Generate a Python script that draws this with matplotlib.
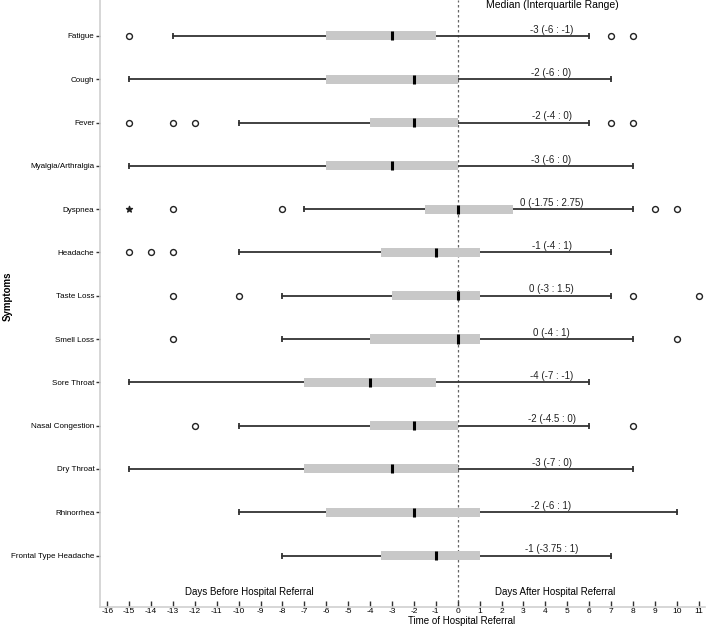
import numpy as np
import matplotlib.pyplot as plt

plt.rcParams['font.family'] = ['Liberation Sans', 'DejaVu Sans']

# === Data ===
symptoms = ["Fatigue", "Cough", "Fever", "Myalgia/Arthralgia", "Dyspnea", "Headache",
            "Taste Loss", "Smell Loss", "Sore Throat", "Nasal Congestion", "Dry Throat",
            "Rhinorrhea", "Frontal Type Headache"]
whisk_lo = [-13, -15, -10, -15, -7, -10, -8, -8, -15, -10, -15, -10, -8]
q1 = [-6, -6, -4, -6, -1.5, -3.5, -3, -4, -7, -4, -7, -6, -3.5]
medians = [-3, -2, -2, -3, 0, -1, 0, 0, -4, -2, -3, -2, -1]
q3 = [-1, 0, 0, 0, 2.5, 1, 1, 1, -1, 0, 0, 1, 1]
whisk_hi = [6, 7, 6, 8, 8, 7, 7, 8, 6, 6, 8, 10, 7]
outliers = [[-15, 7, 8], [], [-15, -13, -12, 7, 8], [], [-13, -8, 9, 10],
            [-15, -14, -13], [-13, -10, 8, 11], [-13, 10], [], [-12, 8], [], [], []]
extremes = [[], [], [], [], [-15], [], [], [], [], [], [], [], []]
iqr_labels = ["-3 (-6 : -1)", "-2 (-6 : 0)", "-2 (-4 : 0)", "-3 (-6 : 0)", "0 (-1.75 : 2.75)",
              "-1 (-4 : 1)", "0 (-3 : 1.5)", "0 (-4 : 1)", "-4 (-7 : -1)", "-2 (-4.5 : 0)",
              "-3 (-7 : 0)", "-2 (-6 : 1)", "-1 (-3.75 : 1)"]
xticks = list(range(-16, 12))

# === Plot ===
fig = plt.figure(figsize=(7.08, 6.28), dpi=100)
ax = fig.add_axes([0.1412, 0.0334, 0.855, 0.9666])

box_h = 0.21
for i in range(len(symptoms)):
    ax.plot([whisk_lo[i], whisk_hi[i]], [i, i], color='#333333', lw=1.3, zorder=2)
    ax.plot([whisk_lo[i], whisk_hi[i]], [i, i], ls='none', marker='|', ms=4,
            mew=1.3, color='#333333', zorder=2)
    ax.barh(i, q3[i] - q1[i], left=q1[i], height=box_h, color='#c8c8c8', zorder=3)
    ax.plot([medians[i], medians[i]], [i - box_h / 2, i + box_h / 2], color='black',
            lw=2.2, zorder=4, solid_capstyle='butt')
    if outliers[i]:
        ax.scatter(outliers[i], [i] * len(outliers[i]), s=18, facecolors='white',
                   edgecolors='#222222', linewidths=1.0, zorder=5)
    if extremes[i]:
        ax.scatter(extremes[i], [i] * len(extremes[i]), s=20, marker='*',
                   color='#222222', zorder=5)
    ax.text(4.28, i - 0.03, iqr_labels[i], ha='center', va='bottom', fontsize=7,
            color='#222222')

ax.axvline(0, color='#666666', lw=0.9, ls=(0, (2, 2)), zorder=1)

ax.set_xlim(-16.33, 11.3)
ax.set_ylim(13.19, -0.83)
ax.set_yticks(range(len(symptoms)))
ax.set_yticklabels(symptoms, fontsize=5.8)
ax.set_xticks(xticks)
ax.set_xticklabels([str(t) for t in xticks], fontsize=6)
ax.tick_params(axis='x', direction='in', length=4, width=1, color='#333333', pad=1)
ax.tick_params(axis='y', direction='out', length=3, width=1, color='#333333', pad=1)

for side in ['top', 'right']:
    ax.spines[side].set_visible(False)
for side in ['left', 'bottom']:
    ax.spines[side].set_color('#d0d0d0')
    ax.spines[side].set_linewidth(1.2)

ax.text(-9.5, 12.95, "Days Before Hospital Referral", ha='center', va='bottom', fontsize=7)
ax.text(4.45, 12.95, "Days After Hospital Referral", ha='center', va='bottom', fontsize=7)
fig.text(462 / 708, 1 - 621.5 / 628, "Time of Hospital Referral", ha='center', va='center',
         fontsize=7)
fig.text(8 / 708, 1 - 296 / 628, "Symptoms", rotation=90, ha='center', va='center',
         fontsize=7, fontweight='bold')
fig.text(552 / 708, 1 - 5 / 628, "Median (Interquartile Range)", ha='center', va='center',
         fontsize=7.5)

plt.savefig("out.png", dpi=100)
